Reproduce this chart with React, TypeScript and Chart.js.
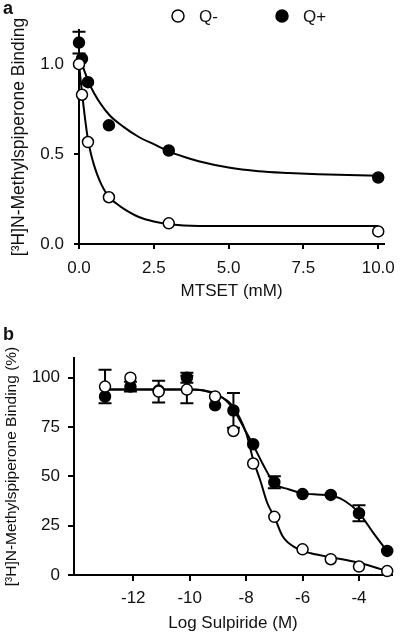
import React, { useEffect, useRef } from "react";
import { Chart, registerables } from "chart.js";

Chart.register(...registerables);

const FONT = "'Liberation Sans', Arial, Helvetica, sans-serif";
const INK = "#111";

// ---------- Panel a : MTSET ----------
const mtsetDoses = [0, 0.1, 0.3, 1, 3, 10];
const qMinusBinding = [1.0, 0.83, 0.567, 0.26, 0.115, 0.07];
const qPlusBinding = [1.12, 1.03, 0.9, 0.66, 0.52, 0.37];
const qMinusBindingErr = [0, 0, 0, 0, 0, 0];
const qPlusBindingErr = [0.06, 0, 0, 0, 0, 0];
const qMinusFitX = [0, 0.1, 0.2, 0.3, 0.4, 0.5, 0.6, 0.75, 0.9, 1, 1.25, 1.5, 2, 2.5, 3, 4, 6, 10];
const qMinusFitY = [1.0, 0.84, 0.7, 0.58, 0.5, 0.44, 0.39, 0.33, 0.285, 0.26, 0.225, 0.195, 0.15, 0.125, 0.11, 0.1, 0.1, 0.1];
const qPlusFitX = [0, 0.1, 0.3, 0.5, 1, 1.5, 2, 2.5, 3, 3.5, 4, 5, 6, 7, 8, 10];
const qPlusFitY = [1.05, 1.0, 0.91, 0.84, 0.72, 0.65, 0.595, 0.555, 0.515, 0.485, 0.46, 0.425, 0.405, 0.395, 0.388, 0.38];
const mtsetTicks = [0, 2.5, 5, 7.5, 10];
const bindingTicks = [0, 0.5, 1.0];

// ---------- Panel b : Sulpiride ----------
const logSulpiride = [-13, -12.1, -11.1, -10.1, -9.1, -8.45, -7.75, -7, -6, -5, -4, -3];
const sulpQMinus = [95.5, 100, 93, 94, 90.5, 73, 56.5, 29.5, 13, 8, 4.3, 2];
const sulpQPlus = [90.5, 95.5, 93.5, 100, 86, 83.4, 66.3, 47, 41, 40.6, 31.3, 12.2];
const sulpQMinusErr = [8.5, 0, 5.5, 7, 0, 0, 0, 0, 0, 0, 0, 0];
const sulpQPlusErr = [0, 2.5, 0, 2.5, 0, 8.8, 0, 3, 0, 0, 4, 0];
const sulpQMinusFitX = [-13, -12, -11, -10, -9.5, -9, -8.5, -8, -7.75, -7.5, -7.25, -7, -6.7, -6.2, -5.7, -5, -4.2, -3.5, -3];
const sulpQMinusFitY = [94, 94, 94, 94, 93.5, 91, 86, 72, 58.5, 48, 36.5, 29.5, 19.5, 13.5, 11, 9, 6.8, 4.2, 2];
const sulpQPlusFitX = [-13, -12, -11, -10, -9.5, -9, -8.5, -8, -7.7, -7.4, -7, -6.5, -6, -5.5, -5, -4.5, -4, -3.5, -3];
const sulpQPlusFitY = [94, 94, 94, 94, 93.5, 91.5, 85, 72.5, 64.5, 56, 46.5, 43.5, 41.5, 40.8, 40.3, 37.5, 31.5, 21.5, 12];
const sulpXTicks = [-12, -10, -8, -6, -4];
const percentTicks = [0, 25, 50, 75, 100];

const seriesLabels = ["Q-", "Q+"];

const pts = (xs: number[], ys: number[]) => xs.map((x, i) => ({ x, y: ys[i] }));

const pointDs = (label: string, xs: number[], ys: number[], errs: number[], fill: string, order: number) => ({
  label,
  data: pts(xs, ys),
  errors: errs,
  showLine: false,
  pointRadius: 5.5,
  pointHoverRadius: 5.5,
  pointBorderWidth: 1.5,
  pointBackgroundColor: fill,
  pointBorderColor: "#000",
  backgroundColor: fill,
  borderColor: "#000",
  clip: false,
  order,
});

const fitDs = (xs: number[], ys: number[]) => ({
  label: "",
  data: pts(xs, ys),
  showLine: true,
  pointRadius: 0,
  pointHoverRadius: 0,
  borderColor: "#000",
  borderWidth: 2,
  cubicInterpolationMode: "monotone",
  fill: false,
  clip: false,
  order: 3,
});

const errorBars = {
  id: "errorBars",
  beforeDatasetsDraw(chart: any) {
    const ctx = chart.ctx;
    const xs = chart.scales.x;
    const ys = chart.scales.y;
    chart.data.datasets.forEach((ds: any) => {
      if (!ds.errors) return;
      ds.data.forEach((p: any, j: number) => {
        const e = ds.errors[j];
        if (!e) return;
        const px = xs.getPixelForValue(p.x);
        const yt = ys.getPixelForValue(p.y + e);
        const yb = ys.getPixelForValue(p.y - e);
        ctx.save();
        ctx.strokeStyle = "#000";
        ctx.lineWidth = 2;
        ctx.beginPath();
        ctx.moveTo(px, yt);
        ctx.lineTo(px, yb);
        ctx.moveTo(px - 6.5, yt);
        ctx.lineTo(px + 6.5, yt);
        ctx.moveTo(px - 6.5, yb);
        ctx.lineTo(px + 6.5, yb);
        ctx.stroke();
        ctx.restore();
      });
    });
  },
};

const makeDeco = (letter: string, letterY: number, legendItems: { index: number; x: number }[], legendY: number) => ({
  id: "panelDeco",
  afterDraw(chart: any) {
    const ctx = chart.ctx;
    ctx.save();
    ctx.fillStyle = INK;
    ctx.font = `bold 18px ${FONT}`;
    ctx.textAlign = "left";
    ctx.textBaseline = "alphabetic";
    ctx.fillText(letter, 3, letterY);
    legendItems.forEach((item) => {
      const ds = chart.data.datasets[item.index];
      ctx.beginPath();
      ctx.arc(item.x, legendY, 6, 0, Math.PI * 2);
      ctx.fillStyle = ds.pointBackgroundColor;
      ctx.fill();
      ctx.lineWidth = 1.5;
      ctx.strokeStyle = "#000";
      ctx.stroke();
      ctx.fillStyle = INK;
      ctx.font = `17px ${FONT}`;
      ctx.textBaseline = "middle";
      ctx.fillText(ds.label, item.x + 21, legendY + 1);
    });
    ctx.restore();
  },
});

const axisCommon = (tickLength: number, padding: number) => ({
  type: "linear",
  grid: { drawOnChartArea: false, drawTicks: true, tickLength, color: "#000", lineWidth: 2 },
  border: { display: true, color: "#000", width: 2 },
  ticks: { color: INK, font: { family: FONT, size: 17 }, padding, maxRotation: 0, autoSkip: false },
});

function buildA(): any {
  return {
    type: "scatter",
    data: {
      datasets: [
        pointDs(seriesLabels[0], mtsetDoses, qMinusBinding, qMinusBindingErr, "#fff", 0),
        pointDs(seriesLabels[1], mtsetDoses, qPlusBinding, qPlusBindingErr, "#000", 1),
        fitDs(qMinusFitX, qMinusFitY),
        fitDs(qPlusFitX, qPlusFitY),
      ],
    },
    options: {
      responsive: false,
      animation: false,
      devicePixelRatio: 1,
      events: [],
      layout: { padding: { top: 30, right: 12, left: 0, bottom: 0 } },
      plugins: { legend: { display: false }, tooltip: { enabled: false } },
      scales: {
        x: {
          ...axisCommon(5, 9),
          min: 0,
          max: 10.2,
          afterBuildTicks: (s: any) => { s.ticks = mtsetTicks.map((value) => ({ value })); },
          afterFit: (s: any) => { s.height = 66; },
          ticks: { ...axisCommon(5, 9).ticks, callback: (v: any) => Number(v).toFixed(1) },
          title: { display: true, text: "MTSET (mM)", color: INK, font: { family: FONT, size: 17 }, padding: { top: 0, bottom: 8 } },
        },
        y: {
          ...axisCommon(5, 10),
          min: 0,
          max: 1.19,
          afterBuildTicks: (s: any) => { s.ticks = bindingTicks.map((value) => ({ value })); },
          afterFit: (s: any) => { s.width = 79; },
          ticks: { ...axisCommon(5, 10).ticks, callback: (v: any) => Number(v).toFixed(1) },
          title: { display: true, text: "[³H]N-Methylspiperone Binding", color: INK, font: { family: FONT, size: 17.5 }, padding: { top: 9, bottom: 0 } },
        },
      },
    },
    plugins: [errorBars, makeDeco("a", 14, [{ index: 0, x: 178 }, { index: 1, x: 282 }], 16)],
  };
}

function buildB(): any {
  return {
    type: "scatter",
    data: {
      datasets: [
        pointDs(seriesLabels[0], logSulpiride, sulpQMinus, sulpQMinusErr, "#fff", 0),
        pointDs(seriesLabels[1], logSulpiride, sulpQPlus, sulpQPlusErr, "#000", 1),
        fitDs(sulpQMinusFitX, sulpQMinusFitY),
        fitDs(sulpQPlusFitX, sulpQPlusFitY),
      ],
    },
    options: {
      responsive: false,
      animation: false,
      devicePixelRatio: 1,
      events: [],
      layout: { padding: { top: 48, right: 12, left: 0, bottom: 0 } },
      plugins: { legend: { display: false }, tooltip: { enabled: false } },
      scales: {
        x: {
          ...axisCommon(6, 7),
          min: -14.1,
          max: -2.83,
          afterBuildTicks: (s: any) => { s.ticks = sulpXTicks.map((value) => ({ value })); },
          afterFit: (s: any) => { s.height = 61; },
          ticks: { ...axisCommon(6, 7).ticks, callback: (v: any) => String(v) },
          title: { display: true, text: "Log Sulpiride (M)", color: INK, font: { family: FONT, size: 17 }, padding: { top: 0, bottom: 2 } },
        },
        y: {
          ...axisCommon(6, 8),
          min: 0,
          max: 110,
          afterBuildTicks: (s: any) => { s.ticks = percentTicks.map((value) => ({ value })); },
          afterFit: (s: any) => { s.width = 74; },
          ticks: { ...axisCommon(6, 8).ticks, callback: (v: any) => String(v) },
          title: { display: true, text: "[³H]N-Methylspiperone Binding (%)", color: INK, font: { family: FONT, size: 15.5 }, padding: { top: 2, bottom: 0 } },
        },
      },
    },
    plugins: [errorBars, makeDeco("b", 30, [], 0)],
  };
}

export default function App() {
  const refA = useRef<HTMLCanvasElement>(null);
  const refB = useRef<HTMLCanvasElement>(null);
  useEffect(() => {
    const a = new Chart(refA.current as HTMLCanvasElement, buildA());
    const b = new Chart(refB.current as HTMLCanvasElement, buildB());
    return () => {
      a.destroy();
      b.destroy();
    };
  }, []);
  return (
    <div style={{ position: "absolute", left: 0, top: 0, width: 404, height: 636, background: "#fff" }}>
      <canvas ref={refA} width={404} height={310} style={{ display: "block", width: 404, height: 310 }} />
      <canvas ref={refB} width={404} height={326} style={{ display: "block", width: 404, height: 326 }} />
    </div>
  );
}
